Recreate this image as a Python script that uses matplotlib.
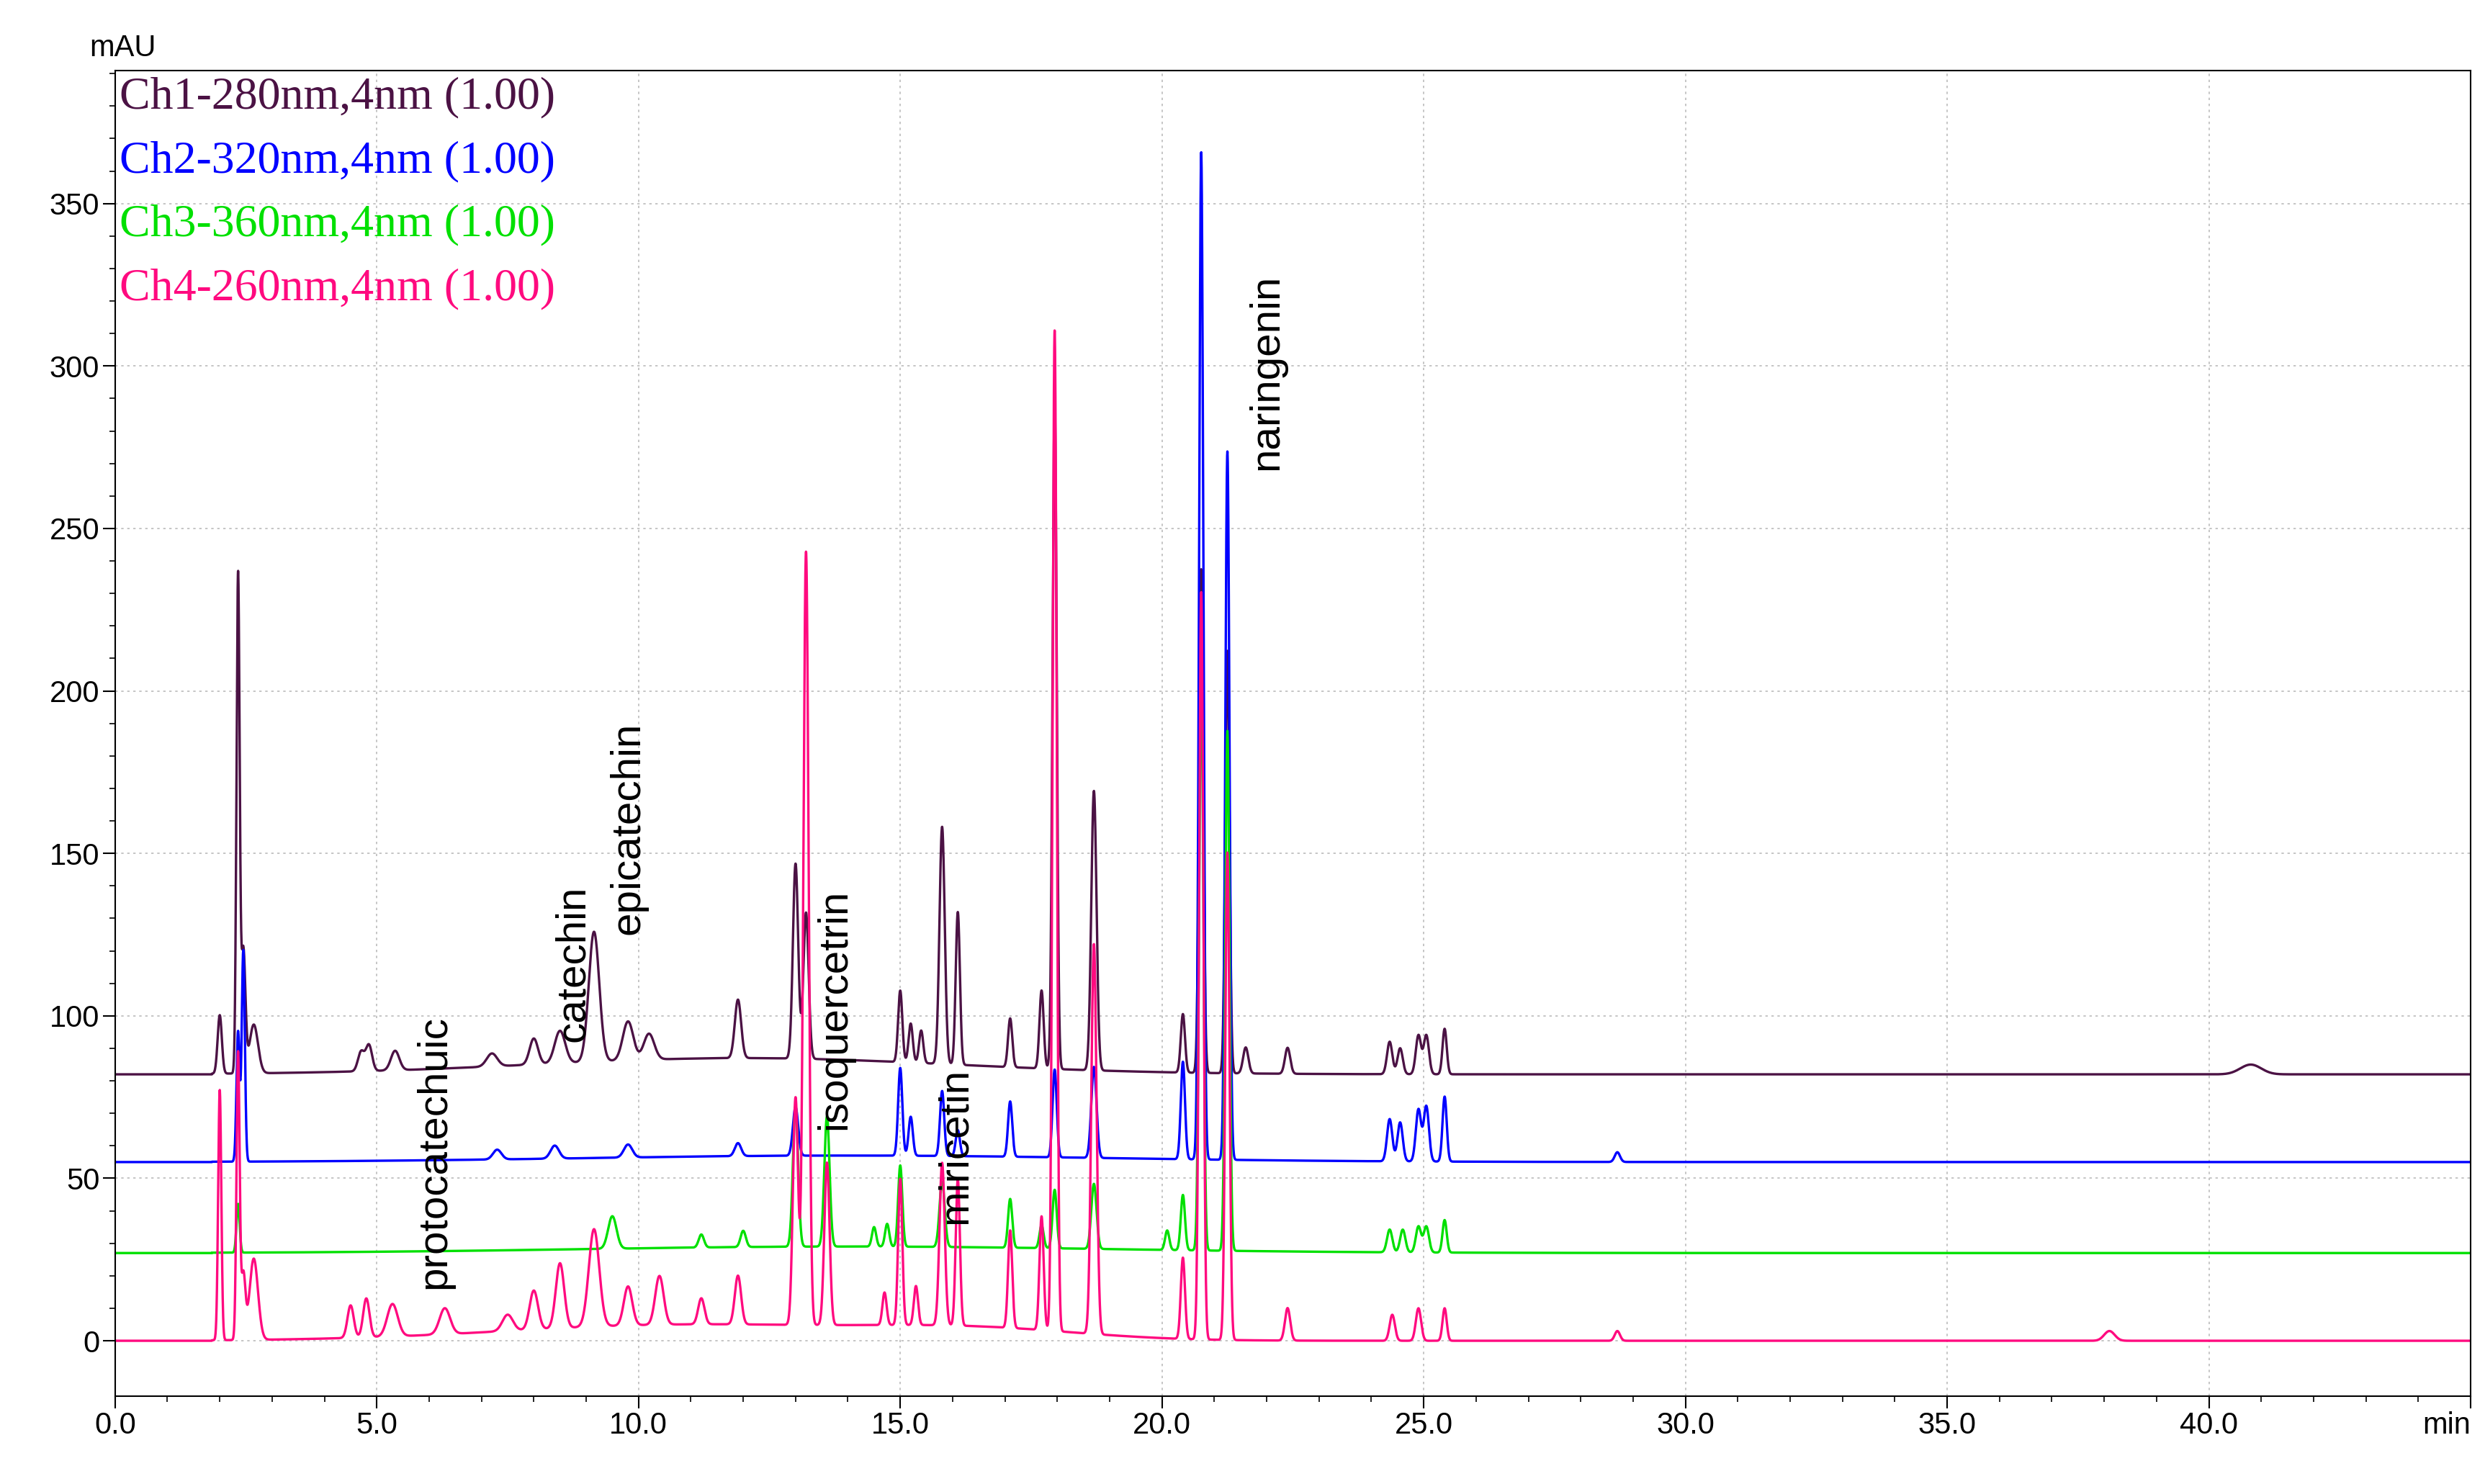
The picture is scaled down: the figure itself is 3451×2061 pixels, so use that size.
import numpy as np
import matplotlib
matplotlib.use("Agg")
import matplotlib.pyplot as plt

# channel baselines (mAU)
baselines = [82, 55, 27, 0]
names = ["Ch1-280nm,4nm (1.00)", "Ch2-320nm,4nm (1.00)", "Ch3-360nm,4nm (1.00)", "Ch4-260nm,4nm (1.00)"]
colors = ["#4b1244", "#0000ff", "#00e000", "#ff0a7f"]

ch1_rt = [2.0, 2.35, 2.45, 2.65, 4.7, 4.85, 5.35, 7.2, 8.0, 8.5, 9.15, 9.8, 10.2, 11.9, 13.0, 13.2, 15.0, 15.2, 15.4, 15.8, 16.1, 17.1, 17.7, 17.95, 18.7, 20.4, 20.75, 21.25, 21.6, 22.4, 24.35, 24.55, 24.9, 25.05, 25.4, 40.8, 12.0]
ch1_h = [18, 153, 38, 15, 6, 8, 6, 4, 8, 10, 40, 12, 8, 18, 60, 45, 22, 12, 10, 73, 47, 15, 24, 205, 86, 18, 155, 130, 8, 8, 10, 8, 12, 12, 14, 3, 5]
ch1_w = [0.04, 0.03, 0.04, 0.08, 0.06, 0.06, 0.08, 0.1, 0.08, 0.1, 0.1, 0.1, 0.1, 0.06, 0.05, 0.05, 0.04, 0.04, 0.04, 0.05, 0.04, 0.04, 0.04, 0.04, 0.05, 0.04, 0.04, 0.04, 0.05, 0.05, 0.05, 0.05, 0.05, 0.05, 0.04, 0.2, 4.0]

ch2_rt = [2.35, 2.45, 7.3, 8.4, 9.8, 11.9, 13.0, 15.0, 15.2, 15.8, 16.1, 17.1, 17.95, 18.7, 20.4, 20.75, 21.25, 24.35, 24.55, 24.9, 25.05, 25.4, 28.7, 14.0]
ch2_h = [40, 65, 3, 4, 4, 4, 15, 27, 12, 20, 8, 17, 27, 28, 30, 310, 218, 13, 12, 16, 17, 20, 3, 2]
ch2_w = [0.03, 0.03, 0.08, 0.08, 0.08, 0.06, 0.05, 0.04, 0.04, 0.04, 0.04, 0.04, 0.04, 0.05, 0.04, 0.04, 0.04, 0.05, 0.05, 0.05, 0.05, 0.04, 0.05, 5.0]

ch3_rt = [2.35, 9.5, 11.2, 12.0, 13.0, 13.6, 14.5, 14.75, 15.0, 15.8, 17.1, 17.7, 17.95, 18.7, 20.1, 20.4, 20.75, 21.25, 24.35, 24.6, 24.9, 25.05, 25.4, 14.0]
ch3_h = [15, 10, 4, 5, 43, 40, 6, 7, 25, 20, 15, 7, 18, 20, 6, 17, 180, 160, 7, 7, 8, 8, 10, 2]
ch3_w = [0.03, 0.08, 0.05, 0.05, 0.05, 0.05, 0.04, 0.04, 0.04, 0.05, 0.04, 0.04, 0.04, 0.05, 0.04, 0.04, 0.04, 0.04, 0.05, 0.05, 0.05, 0.05, 0.04, 5.0]

ch4_rt = [2.0, 2.35, 2.45, 2.65, 4.5, 4.8, 5.3, 6.3, 7.5, 8.0, 8.5, 9.15, 9.8, 10.4, 11.2, 11.9, 13.0, 13.2, 13.6, 14.7, 15.0, 15.3, 15.8, 16.1, 17.1, 17.7, 17.95, 18.7, 20.4, 20.75, 21.25, 22.4, 24.4, 24.9, 25.4, 28.7, 38.1, 11.0, 16.5]
ch4_h = [77, 88, 20, 25, 10, 12, 10, 8, 5, 12, 20, 30, 12, 15, 8, 15, 70, 238, 50, 10, 45, 12, 50, 45, 30, 35, 308, 120, 25, 230, 150, 10, 8, 10, 10, 3, 3, 5, 3]
ch4_w = [0.03, 0.03, 0.04, 0.08, 0.06, 0.06, 0.1, 0.1, 0.1, 0.08, 0.08, 0.1, 0.08, 0.08, 0.06, 0.06, 0.05, 0.05, 0.05, 0.04, 0.04, 0.04, 0.05, 0.04, 0.04, 0.04, 0.04, 0.05, 0.04, 0.04, 0.04, 0.05, 0.05, 0.05, 0.04, 0.05, 0.1, 3.5, 2.0]

channels = [(ch1_rt, ch1_h, ch1_w), (ch2_rt, ch2_h, ch2_w), (ch3_rt, ch3_h, ch3_w), (ch4_rt, ch4_h, ch4_w)]

labels = ["protocatechuic", "catechin", "epicatechin", "isoquercetrin", "miricetin", "naringenin"]
label_x = [6.1, 8.75, 9.8, 13.75, 16.05, 22.0]
label_y = [16, 92, 125, 65, 36, 268]

fig = plt.figure(figsize=(34.51, 20.61), dpi=100)
ax = fig.add_axes([0.0463, 0.0593, 0.9479, 0.8933])
t = np.linspace(0, 45, 20000)
for (rt, h, w), b, c in zip(channels, baselines, colors):
    y = np.full_like(t, float(b))
    for r, hh, ww in zip(rt, h, w):
        y += hh * np.exp(-0.5 * ((t - r) / ww) ** 2)
    y[t < 1.85] = b
    ax.plot(t, y, color=c, lw=2.4)

for s, x, yv in zip(labels, label_x, label_y):
    ax.text(x, yv, s, rotation=90, ha="center", va="bottom", fontsize=42, family="Liberation Sans")

for i, (n, c) in enumerate(zip(names, colors)):
    ax.text(0.002, 0.995 - i * 0.048, n, transform=ax.transAxes, color=c, fontsize=46,
            family="Liberation Serif", va="top", ha="left")

ax.set_xlim(0, 45)
ax.set_ylim(-17, 391)
xt = np.arange(0, 46, 5)
ax.set_xticks(xt)
ax.set_xticklabels([f"{v:.1f}" for v in xt[:-1]] + ["min"], fontsize=30, family="Liberation Sans")
ax.get_xticklabels()[-1].set_ha("right")
ax.set_yticks(np.arange(0, 351, 50))
ax.set_yticklabels([str(v) for v in range(0, 351, 50)], fontsize=30, family="Liberation Sans")
ax.set_xticks(np.arange(0, 45, 1), minor=True)
ax.set_yticks(np.arange(0, 391, 10), minor=True)
ax.tick_params(which="major", length=12, width=1.5, direction="out")
ax.tick_params(which="minor", length=6, width=1.2, direction="out")
ax.grid(True, which="major", ls=(0, (2, 3)), color="#bbbbbb", lw=1.2)
for sp in ax.spines.values():
    sp.set_linewidth(1.5)
fig.text(0.036, 0.958, "mAU", fontsize=30, family="Liberation Sans", ha="left", va="bottom")
fig.savefig("out.png", dpi=100)
